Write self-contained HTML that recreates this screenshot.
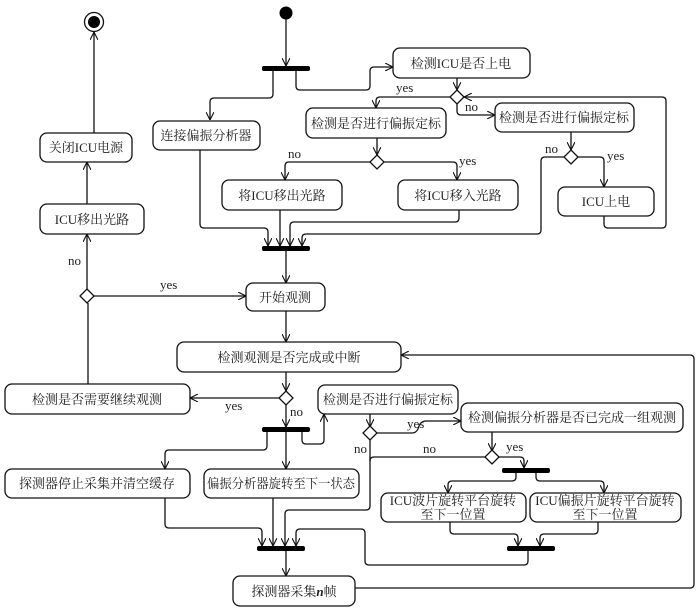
<!DOCTYPE html>
<html><head><meta charset="utf-8"><style>
html,body{margin:0;padding:0;background:#fff;}
svg{display:block;}
text{font-family:"Liberation Serif","Noto Serif CJK SC",serif;font-size:13px;fill:#222;}
.b{fill:#fff;stroke:#111;stroke-width:1.3;}
.l{fill:none;stroke:#111;stroke-width:1.3;}
.a{fill:none;stroke:#111;stroke-width:1.3;marker-end:url(#ar);}
.bar{fill:#000;}
.d{fill:#fff;stroke:#111;stroke-width:1.3;}
</style></head><body>
<svg width="700" height="612" viewBox="0 0 700 612" xmlns="http://www.w3.org/2000/svg">
<defs><marker id="ar" viewBox="0 0 10 10" refX="10" refY="5" markerWidth="8" markerHeight="8" orient="auto" markerUnits="userSpaceOnUse"><path d="M0,0 L10,5 L0,10" fill="none" stroke="#111" stroke-width="1.4"/></marker></defs>

<circle cx="286" cy="13" r="6.5" fill="#000"/>
<circle cx="94" cy="22" r="9.5" fill="#fff" stroke="#111" stroke-width="1.3"/>
<circle cx="94" cy="22" r="6" fill="#000"/>

<rect class="bar" x="262" y="66" width="48" height="5" rx="2"/>
<rect class="bar" x="262" y="246" width="48" height="5" rx="2"/>
<rect class="bar" x="262" y="427" width="48" height="5" rx="2"/>
<rect class="bar" x="502" y="468" width="48" height="5" rx="2"/>
<rect class="bar" x="257" y="546" width="48" height="5" rx="2"/>
<rect class="bar" x="507" y="546" width="48" height="5" rx="2"/>

<path class="a" d="M286,19 V66"/>
<path class="a" d="M273,71 V94 Q273,98 269,98 H214 Q210,98 210,102 V120"/>
<path class="a" d="M296,71 V86 Q296,90 300,90 H366 Q370,90 370,86 V71 Q370,67 374,67 H393"/>
<path class="a" d="M457,78 V90"/>
<path class="a" d="M450,97 H380 Q376,97 376,101 V108"/>
<path class="a" d="M457,104 V111 Q457,115 461,115 H495"/>
<path class="a" d="M604,216 V224 Q604,228 608,228 H662 Q666,228 666,224 V101 Q666,97 662,97 H464"/>
<path class="a" d="M571,132 V150"/>
<path class="a" d="M578,157 H600 Q604,157 604,161 V187"/>
<path class="a" d="M564,157 H545 Q541,157 541,161 V230 Q541,234 537,234 H306 Q302,234 302,238 V246"/>
<path class="a" d="M377,138 V155"/>
<path class="a" d="M370,162 H289 Q285,162 285,166 V180"/>
<path class="a" d="M384,162 H453 Q457,162 457,166 V180"/>
<path class="a" d="M280,210 V246"/>
<path class="a" d="M459,210 V218 Q459,222 455,222 H294 Q290,222 290,226 V246"/>
<path class="a" d="M200,150 V224 Q200,228 204,228 H264 Q268,228 268,232 V246"/>
<path class="a" d="M286,251 V283"/>
<path class="a" d="M94,296 H246"/>
<path class="a" d="M87,289 V234"/>
<path class="a" d="M87,204 V162"/>
<path class="a" d="M94,133 V32"/>
<path class="a" d="M286,311 V342"/>
<path class="a" d="M286,372 V391"/>
<path class="a" d="M279,398 H190"/>
<path class="l" d="M88,384 V303"/>
<path class="a" d="M286,405 V427"/>
<path class="a" d="M267,432 V446 Q267,450 263,450 H169 Q165,450 165,454 V469"/>
<path class="a" d="M286,432 V469"/>
<path class="a" d="M302,432 V440 Q302,444 306,444 H320 Q324,444 324,440 V414"/>
<path class="a" d="M370,414 V427"/>
<path class="a" d="M377,433 H412 Q416,433 418,429 Q420,421 426,421 H461"/>
<path class="a" d="M492,432 V451"/>
<path class="a" d="M499,457 H520 Q524,457 524,461 V468"/>
<path class="l" d="M370,440 V506"/>
<path class="l" d="M486,457 H374 Q370,457 370,461"/>
<path class="a" d="M370,506 Q370,510 366,510 H289 Q285,510 285,514 V546"/>
<path class="a" d="M516,473 V477 Q516,481 512,481 H452 Q448,481 448,485 V493"/>
<path class="a" d="M536,473 V477 Q536,481 540,481 H600 Q604,481 604,485 V493"/>
<path class="a" d="M450,522 V530 Q450,534 454,534 H514 Q518,534 518,538 V546"/>
<path class="a" d="M598,522 V530 Q598,534 594,534 H544 Q540,534 540,538 V546"/>
<path class="l" d="M528,551 V561 Q528,565 524,565 H369 Q365,565 365,561 V533 Q365,529 361,529 H300 Q296,529 296,533"/>
<path class="a" d="M296,533 V546"/>
<path class="a" d="M165,498 V524 Q165,528 169,528 H258 Q262,528 262,532 V546"/>
<path class="a" d="M273,498 V546"/>
<path class="a" d="M286,551 V576"/>
<path class="a" d="M355,588 H690 Q694,588 694,584 V359 Q694,355 690,355 H401"/>

<path class="d" d="M457,90 L464,97 L457,104 L450,97Z"/>
<path class="d" d="M571,150 L578,157 L571,164 L564,157Z"/>
<path class="d" d="M377,155 L384,162 L377,169 L370,162Z"/>
<path class="d" d="M87,289 L94,296 L87,303 L80,296Z"/>
<path class="d" d="M286,391 L293,398 L286,405 L279,398Z"/>
<path class="d" d="M370,426 L377,433 L370,440 L363,433Z"/>
<path class="d" d="M492,450 L499,457 L492,464 L485,457Z"/>

<rect class="b" x="393" y="48" width="137" height="30" rx="7"/><text x="461" y="68" text-anchor="middle">检测ICU是否上电</text>
<rect class="b" x="153" y="121" width="107" height="29" rx="7"/><text x="206" y="140" text-anchor="middle">连接偏振分析器</text>
<rect class="b" x="306" y="108" width="140" height="30" rx="7"/><text x="376" y="128" text-anchor="middle">检测是否进行偏振定标</text>
<rect class="b" x="495" y="103" width="139" height="29" rx="7"/><text x="564" y="122" text-anchor="middle">检测是否进行偏振定标</text>
<rect class="b" x="222" y="180" width="120" height="30" rx="7"/><text x="282" y="200" text-anchor="middle">将ICU移出光路</text>
<rect class="b" x="398" y="180" width="120" height="30" rx="7"/><text x="458" y="200" text-anchor="middle">将ICU移入光路</text>
<rect class="b" x="558" y="187" width="96" height="29" rx="7"/><text x="606" y="206" text-anchor="middle">ICU上电</text>
<rect class="b" x="40" y="133" width="92" height="29" rx="7"/><text x="86" y="152" text-anchor="middle">关闭ICU电源</text>
<rect class="b" x="40" y="204" width="104" height="30" rx="7"/><text x="92" y="224" text-anchor="middle">ICU移出光路</text>
<rect class="b" x="246" y="283" width="79" height="28" rx="7"/><text x="285" y="302" text-anchor="middle">开始观测</text>
<rect class="b" x="177" y="342" width="224" height="30" rx="7"/><text x="289" y="362" text-anchor="middle">检测观测是否完成或中断</text>
<rect class="b" x="5" y="384" width="185" height="30" rx="7"/><text x="97" y="404" text-anchor="middle">检测是否需要继续观测</text>
<rect class="b" x="318" y="385" width="140" height="29" rx="7"/><text x="388" y="404" text-anchor="middle">检测是否进行偏振定标</text>
<rect class="b" x="461" y="403" width="222" height="29" rx="7"/><text x="572" y="422" text-anchor="middle">检测偏振分析器是否已完成一组观测</text>
<rect class="b" x="5" y="469" width="185" height="29" rx="7"/><text x="97" y="488" text-anchor="middle">探测器停止采集并清空缓存</text>
<rect class="b" x="204" y="469" width="155" height="29" rx="7"/><text x="281" y="488" text-anchor="middle" textLength="148" lengthAdjust="spacingAndGlyphs">偏振分析器旋转至下一状态</text>
<rect class="b" x="381" y="493" width="145" height="29" rx="7"/><text x="453" y="505" text-anchor="middle">ICU波片旋转平台旋转</text><text x="453" y="519" text-anchor="middle">至下一位置</text>
<rect class="b" x="530" y="493" width="151" height="29" rx="7"/><text x="605" y="505" text-anchor="middle">ICU偏振片旋转平台旋转</text><text x="605" y="519" text-anchor="middle">至下一位置</text>
<rect class="b" x="233" y="576" width="122" height="30" rx="7"/><text x="294" y="596" text-anchor="middle">探测器采集<tspan font-style="italic" font-weight="bold">n</tspan>帧</text>

<text x="396" y="92">yes</text>
<text x="465" y="111">no</text>
<text x="288" y="158">no</text>
<text x="459" y="165">yes</text>
<text x="545" y="153">no</text>
<text x="607" y="160">yes</text>
<text x="68" y="265">no</text>
<text x="160" y="289">yes</text>
<text x="225" y="410">yes</text>
<text x="290" y="416">no</text>
<text x="407" y="428">yes</text>
<text x="354" y="453">no</text>
<text x="423" y="453">no</text>
<text x="506" y="451">yes</text>
</svg>
</body></html>
